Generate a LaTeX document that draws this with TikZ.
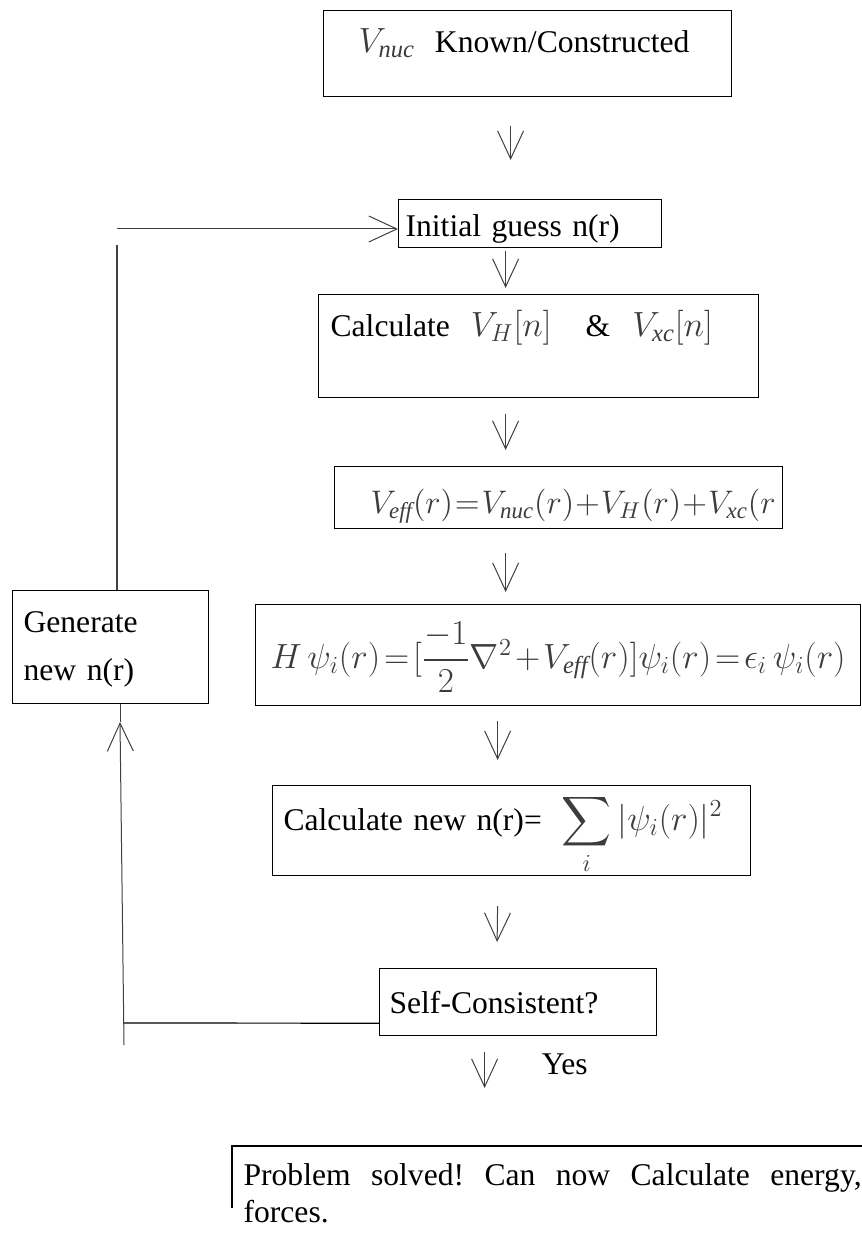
\RequirePackage{fix-cm}
\documentclass[tikz,border=0pt]{standalone}
\usepackage{amsmath}
\usepackage{fontspec}
\setmainfont{Liberation Serif}
\usetikzlibrary{arrows.meta}
\definecolor{mathgray}{RGB}{60,60,60}
\newcommand{\mgr}[2][17.5]{{\color{mathgray}\fontsize{#1}{20}\selectfont
  \thickmuskip=2mu\medmuskip=1.5mu$#2$}}

\begin{document}
\begin{tikzpicture}[x=0.5pt, y=-0.5pt,
      box/.style={draw, line width=0.6pt, anchor=north west, align=left,
                  inner ysep=0pt, font=\fontsize{15.8}{19}\selectfont},
      lbl/.style={font=\fontsize{15.8}{19}\selectfont},
      arr/.style={-{Straight Barb[length=14pt, width=13pt]}, line width=0.5pt, color=black!75},
      link/.style={line width=0.6pt}]
    \useasboundingbox (0,0) rectangle (861,1234);
    \node[box, inner xsep=17.5pt, text width=169pt, text height=21pt, text depth=22pt] (vnuc) at (323,10)
      {\mbox{\mgr{V_{\mathit{nuc}}}\hspace{10pt}Known/Constructed}};
    \node[box, inner xsep=3.5pt, text width=124.5pt, text height=18.5pt, text depth=5.5pt] (guess) at (398,199)
      {Initial guess n(r)};
    \node[box, inner xsep=6pt, text width=208pt, text height=21pt, text depth=30.5pt] (calc) at (318,294)
      {\mbox{Calculate~~\mgr{V_H[n]}\hspace{17pt}\&\hspace{11pt}\mgr{V_{\mathit{xc}}[n]}}};
    \node[box, inner xsep=18pt, text width=188pt, text height=23.5pt, text depth=7.5pt] (veff) at (334,466)
      {\mbox{\mgr[16.3]{\thickmuskip=1mu\medmuskip=0.5mu
        V_{\mathit{eff}}(r)=V_{\mathit{nuc}}(r)+V_H(r)+V_{\mathit{xc}}(r}}};
    \node[box, align=center, inner xsep=3.5pt, text width=295.5pt, text height=32pt, text depth=18.5pt] (ks) at (255,604)
      {\mbox{\mgr{H\,\psi_i(r)=[\dfrac{-1}{2}\nabla^2+V_{\mathit{eff}}(r)]\psi_i(r)=\epsilon_i\,\psi_i(r)}}};
    \node[box, inner xsep=5.5pt, text width=87pt, text height=21pt, text depth=35.5pt] (gen) at (12,590)
      {Generate\\[5pt]new n(r)};
    \node[box, inner xsep=5.5pt, text width=228pt, text height=22.5pt, text depth=22.5pt] (newn) at (272,785)
      {\mbox{Calculate new n(r)=\hspace{10pt}\mgr{\displaystyle\sum_i|\psi_i(r)|^2}}};
    \node[box, inner xsep=5pt, text width=128.5pt, text height=22.5pt, text depth=11pt] (selfc) at (379,968)
      {Self-Consistent?};
    \node[box, draw=none, align=justify, inner xsep=5.5pt, text width=309pt, text height=19.5pt,
          font=\fontsize{15.8}{18.5}\selectfont\frenchspacing] (pb) at (232,1146)
      {Problem solved! Can now Calculate energy, forces.};
    \draw[link] (pb.north east) -- (pb.north west) -- ++(0,62);
    \draw[arr] ([shift={(-17,29)}]vnuc.south) -- ([shift={(-19.5,-39)}]guess.north);
    \draw[arr] ([shift={(-24.5,3)}]guess.south) -- ([shift={(-33,-6)}]calc.north);
    \draw[arr] ([shift={(-33,16)}]calc.south) -- ([shift={(-53,-16)}]veff.north);
    \draw[arr] ([shift={(-53,24)}]veff.south) -- ([shift={(-52.5,-12)}]ks.north);
    \draw[arr] ([shift={(-60.5,15)}]ks.south) -- ([shift={(-14,-25)}]newn.north);
    \draw[arr] ([shift={(-14,30)}]newn.south) -- ([shift={(-21,-26)}]selfc.north);
    \draw[arr] ([shift={(-33.5,16)}]selfc.south) -- ([shift={(-68,-58)}]pb.north)
      node[lbl, midway, right=25pt, yshift=3pt, text=black] (yes) {Yes};
    \coordinate (ljoin) at (124,1023);
    \coordinate (lbot) at (124,1045);
    \coordinate (ltip) at (120,722);
    \coordinate (ltop) at (117,245);
    \coordinate (lin) at (117,229);
    \draw[link] ([yshift=6.5pt]selfc.south west) -- (ljoin);
    \draw[arr] (lbot) -- (ltip);
    \draw[arr, -] (ltip) -- (ltip |- gen.south);
    \draw[link, color=black!75] (ltop |- gen.north) -- (ltop);
    \draw[arr] (lin) -- (lin -| guess.west);
  \end{tikzpicture}
\end{document}
